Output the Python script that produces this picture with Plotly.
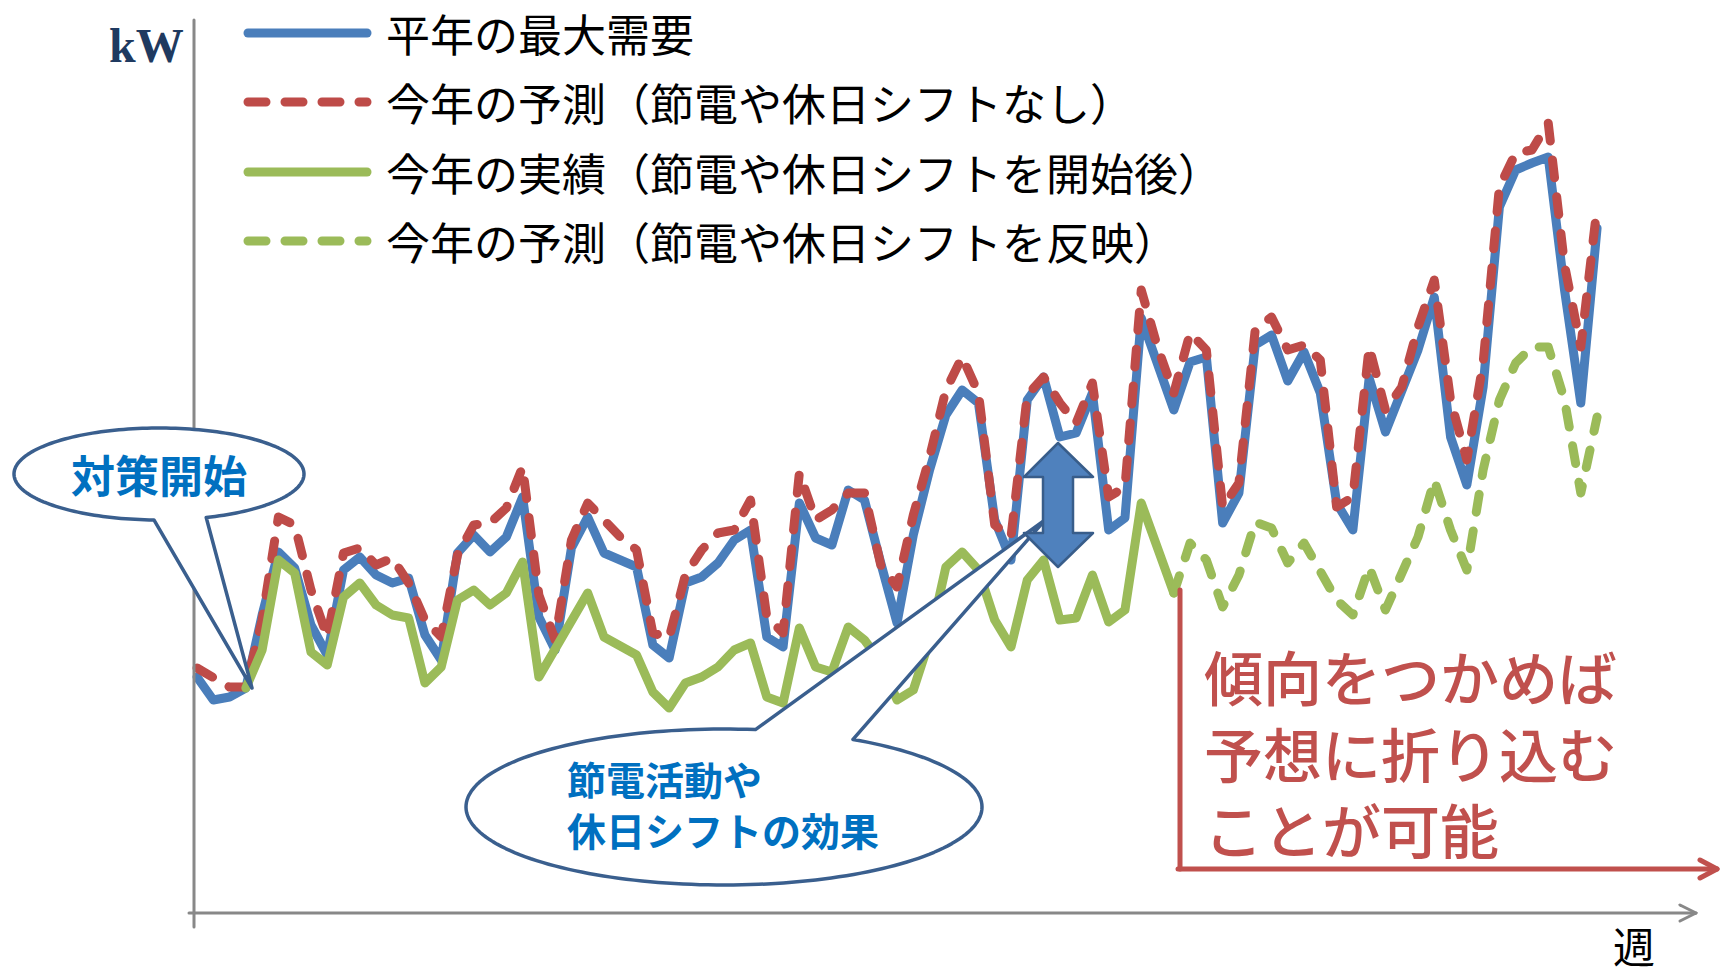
import math
import plotly.graph_objects as go

W, H = 1720, 976

# ---------------- data (chart units) ----------------
periods = list(range(1, 88))

normal_max = [236, 213, 216, 225, 298, 361, 345, 288, 258, 343,
              356, 338, 330, 335, 278, 253, 360, 378, 361, 376,
              416, 296, 263, 365, 396, 360, 353, 346, 268, 255,
              330, 336, 350, 373, 383, 276, 266, 410, 375, 368,
              423, 413, 350, 290, 378, 443, 498, 523, 510, 393,
              353, 513, 536, 476, 480, 520, 383, 395, 595, 550,
              503, 551, 556, 390, 420, 568, 578, 532, 561, 520,
              410, 383, 535, 481, 523, 563, 616, 476, 428, 526,
              706, 743, 750, 756, 623, 510, 685]

forecast_no_saving = [245, 235, 226, 226, 293, 396, 388, 323, 276, 360,
                      365, 348, 355, 330, 293, 276, 358, 388, 390, 405,
                      446, 318, 273, 373, 410, 393, 376, 363, 280, 275,
                      338, 363, 380, 383, 413, 296, 280, 440, 393, 403,
                      420, 420, 348, 326, 398, 456, 523, 556, 520, 388,
                      376, 518, 536, 510, 490, 530, 416, 426, 623, 566,
                      520, 580, 563, 406, 430, 583, 596, 563, 568, 553,
                      406, 416, 566, 503, 526, 586, 633, 513, 453, 550,
                      726, 760, 763, 790, 648, 566, 706]

actual_periods = periods[3:61]
actual_with_saving = [225, 263, 353, 340, 261, 248, 316, 330, 308, 298,
                      295, 230, 246, 313, 323, 308, 320, 351, 236, 263,
                      293, 320, 276, 266, 258, 221, 205, 230, 236, 246,
                      263, 270, 216, 210, 285, 246, 241, 286, 273, 251,
                      213, 223, 273, 346, 361, 343, 293, 266, 333, 353,
                      293, 295, 338, 291, 303, 410, 366, 320]

forecast_periods = periods[60:]
forecast_with_saving = [320, 370, 353, 306, 338, 391, 385, 350, 370, 340,
                        313, 298, 346, 303, 340, 376, 433, 383, 343, 443,
                        513, 550, 566, 566, 513, 420, 496]

legend_labels = ["平年の最大需要",
                 "今年の予測（節電や休日シフトなし）",
                 "今年の実績（節電や休日シフトを開始後）",
                 "今年の予測（節電や休日シフトを反映）"]
y_label = "kW"
x_label = "週"
callout1_text = "対策開始"
callout2_lines = ["節電活動や", "休日シフトの効果"]
message_lines = ["傾向をつかめば", "予想に折り込む", "ことが可能"]

# ---------------- styles ----------------
BLUE = "#4A7EBB"
RED = "#BE4B48"
GREEN = "#9BBB59"
AXIS = "#888888"
CALLOUT = "#3A5F8E"
TXT_BLUE = "#0070C0"
TXT_RED = "#C0504D"
JP = "Noto Sans CJK JP"
DASH = "18px,19px"
LW = 9


def px(x):
    return x / W


def py(y):
    return 1 - y / H


fig = go.Figure()
fig.add_trace(go.Scatter(x=periods, y=normal_max, mode="lines",
                         line=dict(color=BLUE, width=LW), hoverinfo="skip"))
fig.add_trace(go.Scatter(x=periods, y=forecast_no_saving, mode="lines",
                         line=dict(color=RED, width=LW, dash=DASH), hoverinfo="skip"))
fig.add_trace(go.Scatter(x=actual_periods, y=actual_with_saving, mode="lines",
                         line=dict(color=GREEN, width=LW), hoverinfo="skip"))
fig.add_trace(go.Scatter(x=forecast_periods, y=forecast_with_saving, mode="lines",
                         line=dict(color=GREEN, width=LW, dash=DASH), hoverinfo="skip"))

shapes = []


def line(x0, y0, x1, y1, color, width, dash="solid"):
    shapes.append(dict(type="line", xref="paper", yref="paper",
                       x0=px(x0), y0=py(y0), x1=px(x1), y1=py(y1),
                       line=dict(color=color, width=width, dash=dash), layer="above"))


def poly(points, fill, color, width):
    d = "M " + " L ".join(f"{px(x):.5f},{py(y):.5f}" for x, y in points) + " Z"
    shapes.append(dict(type="path", xref="paper", yref="paper", path=d,
                       fillcolor=fill, line=dict(color=color, width=width), layer="above"))


def callout(cx, cy, rx, ry, t_gap_end, t_gap_start, tip, n=180):
    pts = []
    a0 = t_gap_start
    a1 = t_gap_end + 360
    for k in range(n + 1):
        t = math.radians(a0 + (a1 - a0) * k / n)
        pts.append((cx + rx * math.cos(t), cy + ry * math.sin(t)))
    pts.append(tip)
    poly(pts, "white", CALLOUT, 3.5)


# axes
line(194, 20, 194, 927, AXIS, 3)
line(189, 913, 1694, 913, AXIS, 3)
line(1680, 905, 1696, 913, AXIS, 3)
line(1680, 921, 1696, 913, AXIS, 3)

# red bracket with arrow
line(1180, 590, 1180, 869, TXT_RED, 5)
line(1178, 869, 1714, 869, TXT_RED, 5)
line(1700, 860, 1717, 869, TXT_RED, 5)
line(1700, 878, 1717, 869, TXT_RED, 5)

# legend samples
legend_rows = [33, 102, 172, 241]
legend_styles = [(BLUE, "solid"), (RED, DASH), (GREEN, "solid"), (GREEN, DASH)]
for yy, (c, d) in zip(legend_rows, legend_styles):
    line(248, yy, 367, yy, c, LW, d)

# callouts
callout(159, 474, 145, 46, 71, 92, (252, 688))
callout(724, 807, 258, 78, -83, -60, (1045, 520))

# double block arrow
poly([(1058, 443), (1093, 477), (1073, 477), (1073, 533), (1093, 533),
      (1058, 567), (1024, 533), (1043, 533), (1043, 477), (1024, 477)],
     "#4F81BD", "#385D8A", 2.5)

annotations = []


def text(s, x, y, size, color, xanchor="center", family=JP, weight="normal", align="left"):
    annotations.append(dict(text=s, xref="paper", yref="paper", x=px(x), y=py(y),
                            xanchor=xanchor, yanchor="middle", showarrow=False, align=align,
                            font=dict(family=family, size=size, color=color, weight=weight)))


for yy, lab in zip(legend_rows, legend_labels):
    text(lab, 384, yy, 44, "black", xanchor="left")

text(y_label, 146, 46, 48, "#1F3A60", family="Liberation Serif", weight="bold")
text(x_label, 1634, 944, 42, "black")
text(callout1_text, 159, 474, 44, TXT_BLUE, weight="bold")
text("<br>".join(callout2_lines), 565, 803, 39, TXT_BLUE, xanchor="left", weight="bold")
text("<br>".join(message_lines), 1202, 752, 59, TXT_RED, xanchor="left", weight=500)

x_lo = 1 - 197 / 16.28
x_hi = 1 + (W - 197) / 16.28
fig.update_layout(
    width=W, height=H,
    margin=dict(l=0, r=0, t=0, b=0, pad=0),
    paper_bgcolor="white", plot_bgcolor="white",
    showlegend=False,
    xaxis=dict(range=[x_lo, x_hi], visible=False, fixedrange=True),
    yaxis=dict(range=[913 - H, 913], visible=False, fixedrange=True),
    shapes=shapes,
    annotations=annotations,
)

post = """
document.body.style.margin='0';
document.body.style.overflow='hidden';
document.querySelectorAll('.js-line').forEach(function(p){p.style.strokeLinecap='round';p.style.strokeLinejoin='round';});
document.querySelectorAll('.shapelayer path').forEach(function(p){p.style.strokeLinecap='round';p.style.strokeLinejoin='round';});
"""
fig.write_html("out.html", config={"displayModeBar": False, "staticPlot": True}, post_script=post)
